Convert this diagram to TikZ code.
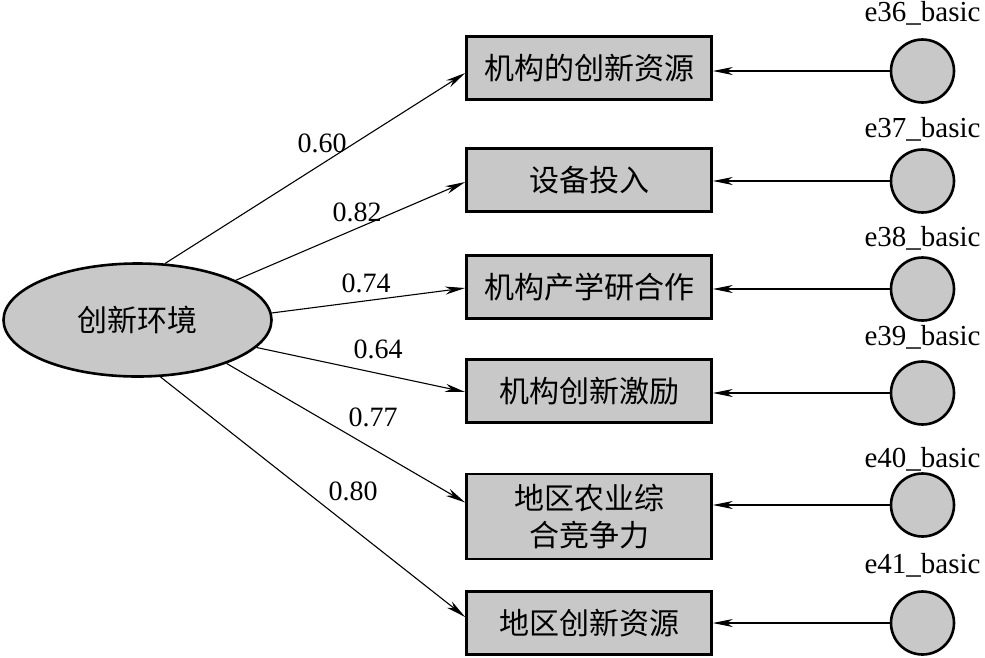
\documentclass[tikz,border=0pt]{standalone}
\usepackage{fontspec}
\setmainfont{Liberation Serif}
\newfontfamily\cjk{Noto Sans CJK SC}
\usetikzlibrary{arrows.meta,shapes.geometric}
\definecolor{boxgray}{RGB}{200,200,200}
\begin{document}
\begin{tikzpicture}[x=1pt,y=-1pt,
  latent/.style={ellipse,draw,line width=2.6pt,fill=boxgray,minimum width=268pt,minimum height=113pt,inner sep=0pt,font=\cjk\fontsize{30}{36}\selectfont},
  obsbox/.style={rectangle,draw,line width=2.6pt,fill=boxgray,minimum width=245pt,minimum height=63pt,inner sep=0pt,align=center,font=\cjk\fontsize{30}{37}\selectfont},
  errc/.style={circle,draw,line width=2.6pt,fill=boxgray,minimum size=63pt,inner sep=0pt},
  elabel/.style={anchor=base,inner sep=0pt,font=\fontsize{29}{34}\selectfont},
  coef/.style={inner sep=0pt,font=\fontsize{28}{33}\selectfont},
  conn/.style={line width=1.1pt,-{Stealth[length=20pt,width=8pt,inset=6pt]}}]
\useasboundingbox (0,0) rectangle (985,657);
% latent
\node[latent] (ell) at (137.5,320) {创新环境};
% boxes
\node[obsbox] (b1) at (589,68) {机构的创新资源};
\node[obsbox] (b2) at (589,180) {设备投入};
\node[obsbox] (b3) at (589,287) {机构产学研合作};
\node[obsbox] (b4) at (589,391) {机构创新激励};
\node[obsbox,minimum height=85pt] (b5) at (589,516.5) {地区农业综\\合竞争力};
\node[obsbox] (b6) at (589,623) {地区创新资源};
% error circles
\node[errc] (c1) at (922.5,71) {};
\node[errc] (c2) at (922.5,181) {};
\node[errc] (c3) at (922.5,289) {};
\node[errc] (c4) at (922.5,393) {};
\node[errc] (c5) at (922.5,505) {};
\node[errc] (c6) at (922.5,623) {};
% error labels
\node[elabel] (t1) at (922.5,21) {e36\_basic};
\node[elabel] (t2) at (922.5,137) {e37\_basic};
\node[elabel] (t3) at (922.5,246) {e38\_basic};
\node[elabel] (t4) at (922.5,345) {e39\_basic};
\node[elabel] (t5) at (922.5,467) {e40\_basic};
\node[elabel] (t6) at (922.5,573) {e41\_basic};
% error arrows
\foreach \i in {1,...,6}{
  \draw[conn] (c\i.west) -- (c\i.west -| b\i.east);
}
% loadings
\draw[conn] (ell.64) -- ([yshift=-5pt]b1.west);
\draw[conn] (ell.22) -- ([yshift=-2pt]b2.west);
\draw[conn] (ell.3) -- ([yshift=-1pt]b3.west);
\draw[conn] (ell.-13) -- ([yshift=-1pt]b4.west);
\draw[conn] (ell.-26) -- ([yshift=14pt]b5.west);
\draw[conn] (ell.-68) -- ([yshift=6pt]b6.west);
% coefficients
\node[coef] (l1) at (322,143) {0.60};
\node[coef] (l2) at (357,212) {0.82};
\node[coef] (l3) at (366,283) {0.74};
\node[coef] (l4) at (378,349) {0.64};
\node[coef] (l5) at (373,417) {0.77};
\node[coef] (l6) at (353,491) {0.80};
\end{tikzpicture}
\end{document}
